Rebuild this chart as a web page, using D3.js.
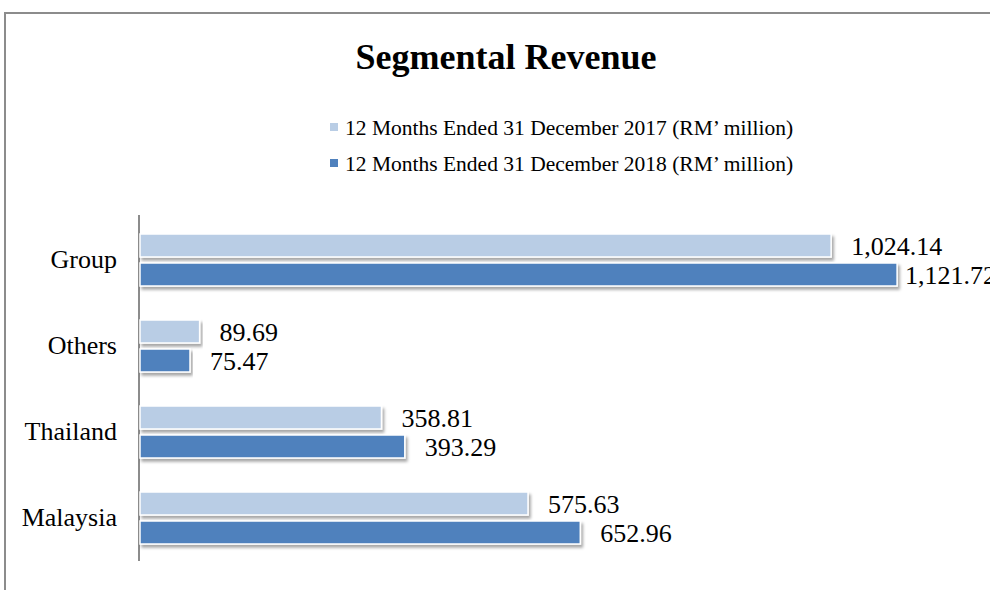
<!DOCTYPE html>
<html>
<head>
<meta charset="utf-8">
<script src="https://cdn.jsdelivr.net/npm/d3@7"></script>
<style>
  body { margin: 0; background: #fff; }
  text { font-family: "Liberation Serif", "Times New Roman", serif; fill: #000; }
</style>
</head>
<body>
<div id="chart"></div>
<script>
const width = 990
const height = 590

const categories = ["Group", "Others", "Thailand", "Malaysia"]
const seriesNames = [
  "12 Months Ended 31 December 2017 (RM\u2019 million)",
  "12 Months Ended 31 December 2018 (RM\u2019 million)"
]
const values2017 = [1024.14, 89.69, 358.81, 575.63]
const values2018 = [1121.72, 75.47, 393.29, 652.96]
const colors = ["#b9cde5", "#4f81bd"]

const series = [values2017, values2018]
const fmt = d3.format(",.2f")

const svg = d3.select("#chart")
  .append("svg")
  .attr("width", width)
  .attr("height", height)

// soft drop shadow under bars
const shadow = svg.append("defs").append("filter")
  .attr("id", "shadow")
  .attr("x", "-5%").attr("y", "-30%")
  .attr("width", "110%").attr("height", "170%")
shadow.append("feDropShadow")
  .attr("dx", 2).attr("dy", 3)
  .attr("stdDeviation", 1.8)
  .attr("flood-color", "#000")
  .attr("flood-opacity", 0.35)

// outer frame, runs off the right and bottom edges
svg.append("rect")
  .attr("x", 5).attr("y", 13)
  .attr("width", width).attr("height", height)
  .attr("fill", "none")
  .attr("stroke", "#8c8c8c")
  .attr("stroke-width", 2)

svg.append("text")
  .attr("x", 506).attr("y", 69)
  .attr("text-anchor", "middle")
  .style("font-size", "36px")
  .style("font-weight", "bold")
  .text("Segmental Revenue")

// legend
const legend = svg.selectAll("g.legend")
  .data(seriesNames)
  .enter()
    .append("g")
    .attr("class", "legend")
    .attr("transform", (d, i) => `translate(330,${127 + i * 36})`)
legend.append("rect")
  .attr("x", 0).attr("y", -4)
  .attr("width", 8).attr("height", 8)
  .attr("fill", (d, i) => colors[i])
legend.append("text")
  .attr("x", 15).attr("y", 0)
  .attr("dy", "0.35em")
  .style("font-size", "21.5px")
  .text(d => d)

const x = d3.scaleLinear()
  .domain([0, 1200])
  .range([139, 950])

const y = d3.scaleBand()
  .domain(categories)
  .range([217, 561])

const barH = 23
const barGap = 6
const offsets = [-(barGap / 2 + barH), barGap / 2]
const plotRight = 996

// category axis
const yAxis = svg.append("g")
  .attr("transform", `translate(${x(0)},0)`)
  .call(d3.axisLeft(y).tickSize(0).tickPadding(22))
yAxis.select(".domain")
  .attr("stroke", "#8c8c8c")
  .attr("stroke-width", 2)
  .attr("d", `M0,${y.range()[0] - 2}V${y.range()[1]}`)
yAxis.selectAll(".tick text")
  .style("font-size", "26px")
  .style("font-family", "'Liberation Serif', 'Times New Roman', serif")
  .attr("dy", "0.3em")

const groups = svg.selectAll("g.series")
  .data(series)
  .enter()
    .append("g")
    .attr("class", "series")

groups.selectAll("rect")
  .data((d, si) => d.map((v, ci) => ({ v, si, cat: categories[ci] })))
  .enter()
    .append("rect")
    .attr("x", x(0) + 1)
    .attr("y", d => y(d.cat) + y.bandwidth() / 2 + offsets[d.si])
    .attr("width", d => x(d.v) - x(0) - 1)
    .attr("height", barH)
    .attr("fill", d => colors[d.si])
    .attr("stroke", "#fff")
    .attr("stroke-width", 1.5)
    .attr("filter", "url(#shadow)")

// value labels, pulled back in when they would run past the plot edge
groups.selectAll("text")
  .data((d, si) => d.map((v, ci) => ({ v, si, cat: categories[ci] })))
  .enter()
    .append("text")
    .attr("y", d => y(d.cat) + y.bandwidth() / 2 + offsets[d.si] + barH / 2)
    .attr("dy", "0.35em")
    .style("font-size", "26px")
    .text(d => fmt(d.v))
    .attr("x", function(d) {
      const w = this.getComputedTextLength()
      return Math.max(x(d.v) + 8, Math.min(x(d.v) + 20, plotRight - w))
    })
</script>
</body>
</html>
